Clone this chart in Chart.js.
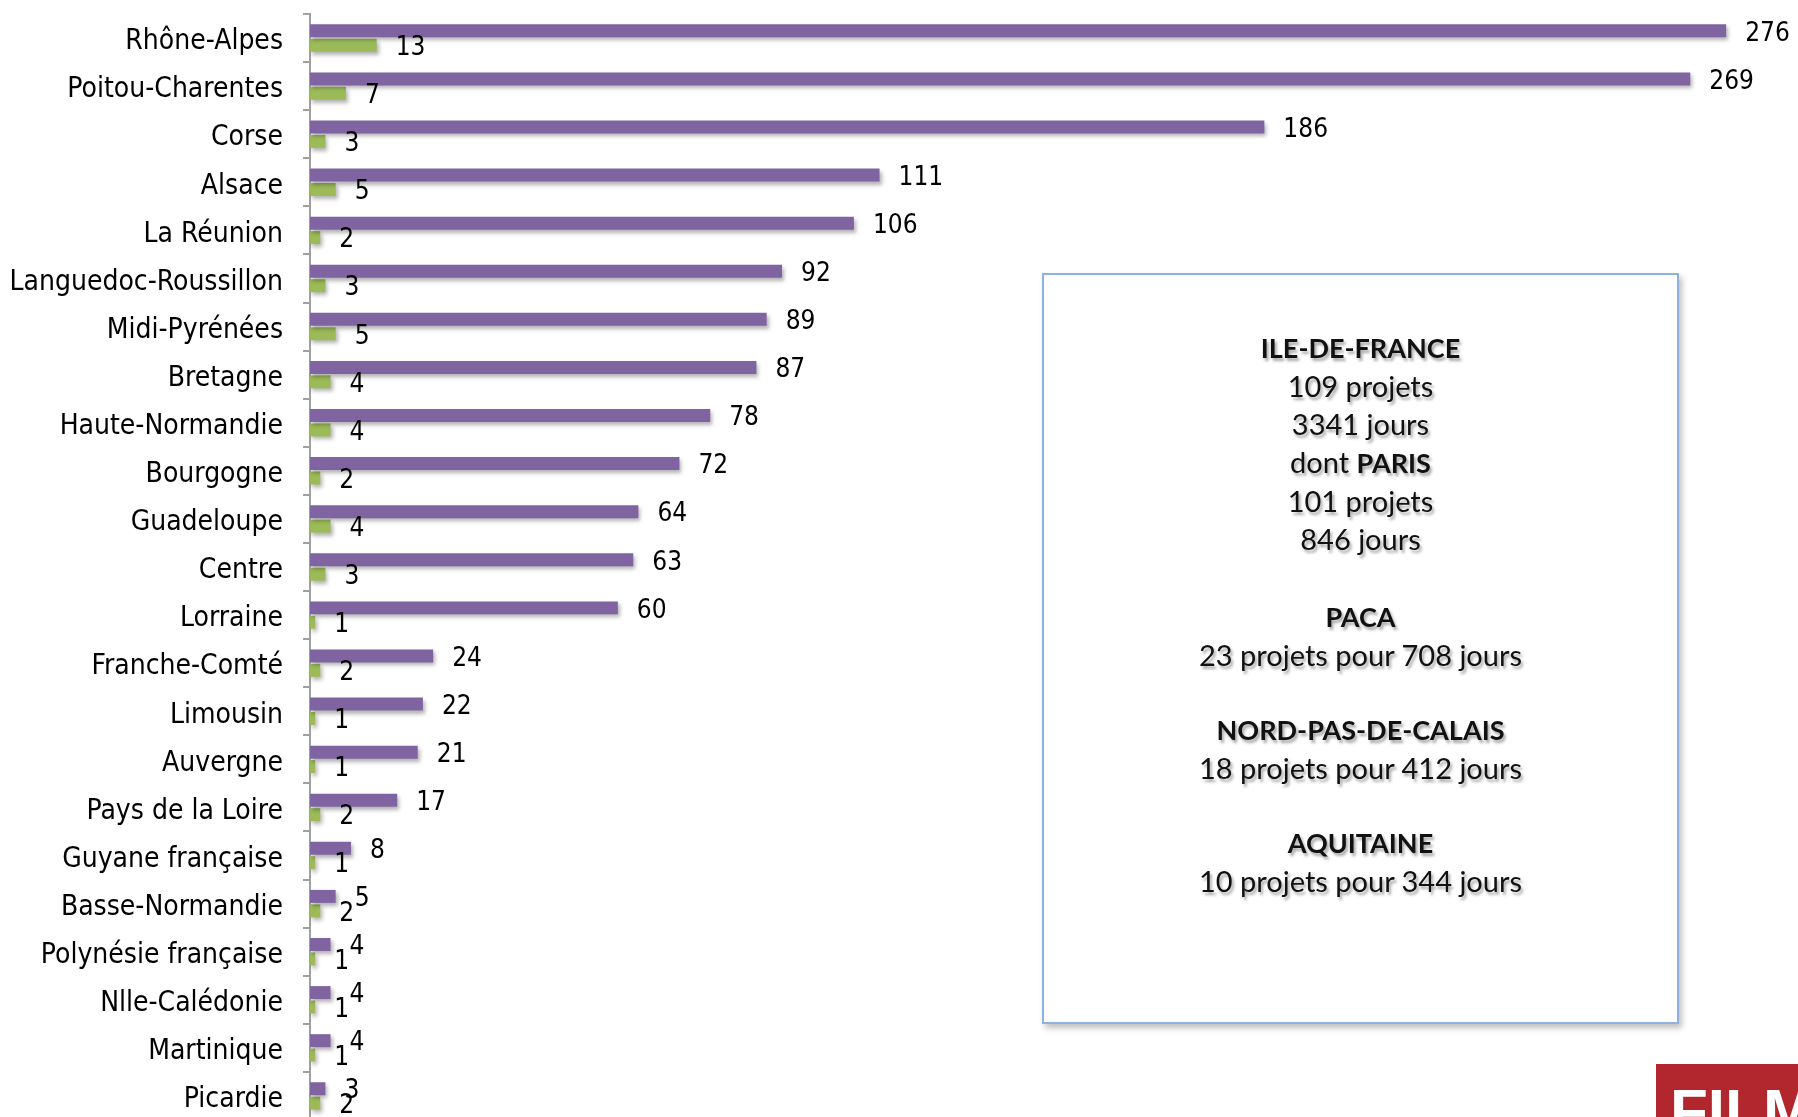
<!DOCTYPE html>
<html>
<head>
<meta charset="utf-8">
<script src="https://cdn.jsdelivr.net/npm/chart.js@4"></script>
<style>
  html, body { margin: 0; padding: 0; background: #fff; overflow: hidden; }
  #wrap { position: relative; width: 1798px; height: 1120px; }
  #info {
    position: absolute; left: 1042px; top: 273px; width: 633px; height: 694px;
    border: 2px solid #8fb1de; box-shadow: 3px 4px 6px rgba(0,0,0,0.25);
    font-family: Lato, "Open Sans", sans-serif; font-size: 29px; color: #111;
    text-align: center; line-height: 38px; padding-top: 53px;
    text-shadow: 2px 3px 3px rgba(0,0,0,0.35);
  }
  #info .grp { margin-top: 39px; }
  #info .grp2 { margin-top: 36px; }
  #info b { font-weight: 700; font-size: 27px; }
  #logo {
    position: absolute; left: 1656px; top: 1064px; width: 160px; height: 70px;
    background: #b2262d; color: #fff; overflow: hidden;
    font-family: "Liberation Sans", sans-serif; font-weight: 900; font-size: 62px;
    line-height: 1; padding-left: 14px; padding-top: 16px; box-sizing: border-box;
  }
</style>
</head>
<body>
<div id="wrap">
  <canvas id="chart"></canvas>
  <div id="info">
    <div><b>ILE-DE-FRANCE</b></div>
    <div>109 projets</div>
    <div>3341 jours</div>
    <div>dont <b>PARIS</b></div>
    <div>101 projets</div>
    <div>846 jours</div>
    <div class="grp"><b>PACA</b></div>
    <div>23 projets pour 708 jours</div>
    <div class="grp2"><b>NORD-PAS-DE-CALAIS</b></div>
    <div>18 projets pour 412 jours</div>
    <div class="grp2"><b>AQUITAINE</b></div>
    <div>10 projets pour 344 jours</div>
  </div>
  <div id="logo">FILM</div>
</div>
<script>
// regions, sorted by number of shooting days
const regions = [
  'Rhône-Alpes', 'Poitou-Charentes', 'Corse', 'Alsace', 'La Réunion',
  'Languedoc-Roussillon', 'Midi-Pyrénées', 'Bretagne', 'Haute-Normandie',
  'Bourgogne', 'Guadeloupe', 'Centre', 'Lorraine', 'Franche-Comté',
  'Limousin', 'Auvergne', 'Pays de la Loire', 'Guyane française',
  'Basse-Normandie', 'Polynésie française', 'Nlle-Calédonie', 'Martinique',
  'Picardie'
];
const jours = [276, 269, 186, 111, 106, 92, 89, 87, 78, 72, 64, 63, 60, 24, 22, 21, 17, 8, 5, 4, 4, 4, 3];
const projets = [13, 7, 3, 5, 2, 3, 5, 4, 4, 2, 4, 3, 1, 2, 1, 1, 2, 1, 2, 1, 1, 1, 2];

const labelFont = '"DejaVu Sans Condensed", "Liberation Sans Narrow", sans-serif';

// soft drop shadow under the bars + value labels next to each bar
const barExtras = {
  id: 'barExtras',
  beforeDatasetsDraw(chart) {
    const ctx = chart.ctx;
    ctx.save();
    ctx.shadowColor = 'rgba(0,0,0,0.3)';
    ctx.shadowBlur = 4;
    ctx.shadowOffsetX = 2;
    ctx.shadowOffsetY = 3;
  },
  afterDatasetsDraw(chart) {
    const ctx = chart.ctx;
    ctx.restore();
    ctx.save();
    ctx.font = '26px ' + labelFont;
    ctx.fillStyle = '#000';
    ctx.textAlign = 'left';
    ctx.textBaseline = 'middle';
    chart.data.datasets.forEach((ds, i) => {
      const meta = chart.getDatasetMeta(i);
      meta.data.forEach((bar, j) => {
        ctx.fillText(String(ds.data[j]), bar.x + 19, bar.y + 3);
      });
    });
    ctx.restore();
  }
};

const canvas = document.getElementById('chart');
canvas.width = 1798;
canvas.height = 1120;

new Chart(canvas, {
  type: 'bar',
  data: {
    labels: regions,
    datasets: [
      { label: 'jours', data: jours, backgroundColor: '#8064a2',
        categoryPercentage: 0.6, barPercentage: 0.9 },
      { label: 'projets', data: projets, backgroundColor: '#9bbb59',
        categoryPercentage: 0.6, barPercentage: 0.9 }
    ]
  },
  options: {
    indexAxis: 'y',
    responsive: false,
    animation: false,
    layout: { padding: { top: 14, right: 0, bottom: 0, left: 0 } },
    plugins: { legend: { display: false }, tooltip: { enabled: false } },
    scales: {
      x: { display: false, min: 0, max: 290 },
      y: {
        afterFit(scale) {
          scale.width = 310;
          scale.paddingTop = 0;
          scale.paddingBottom = 0;
        },
        border: { display: true, color: '#a0a0a0', width: 2 },
        grid: { drawOnChartArea: false, tickLength: 7, color: '#a0a0a0', lineWidth: 2, offset: true },
        ticks: { color: '#000', padding: 20, labelOffset: 4, font: { family: labelFont, size: 28 } }
      }
    }
  },
  plugins: [barExtras]
});
</script>
</body>
</html>
